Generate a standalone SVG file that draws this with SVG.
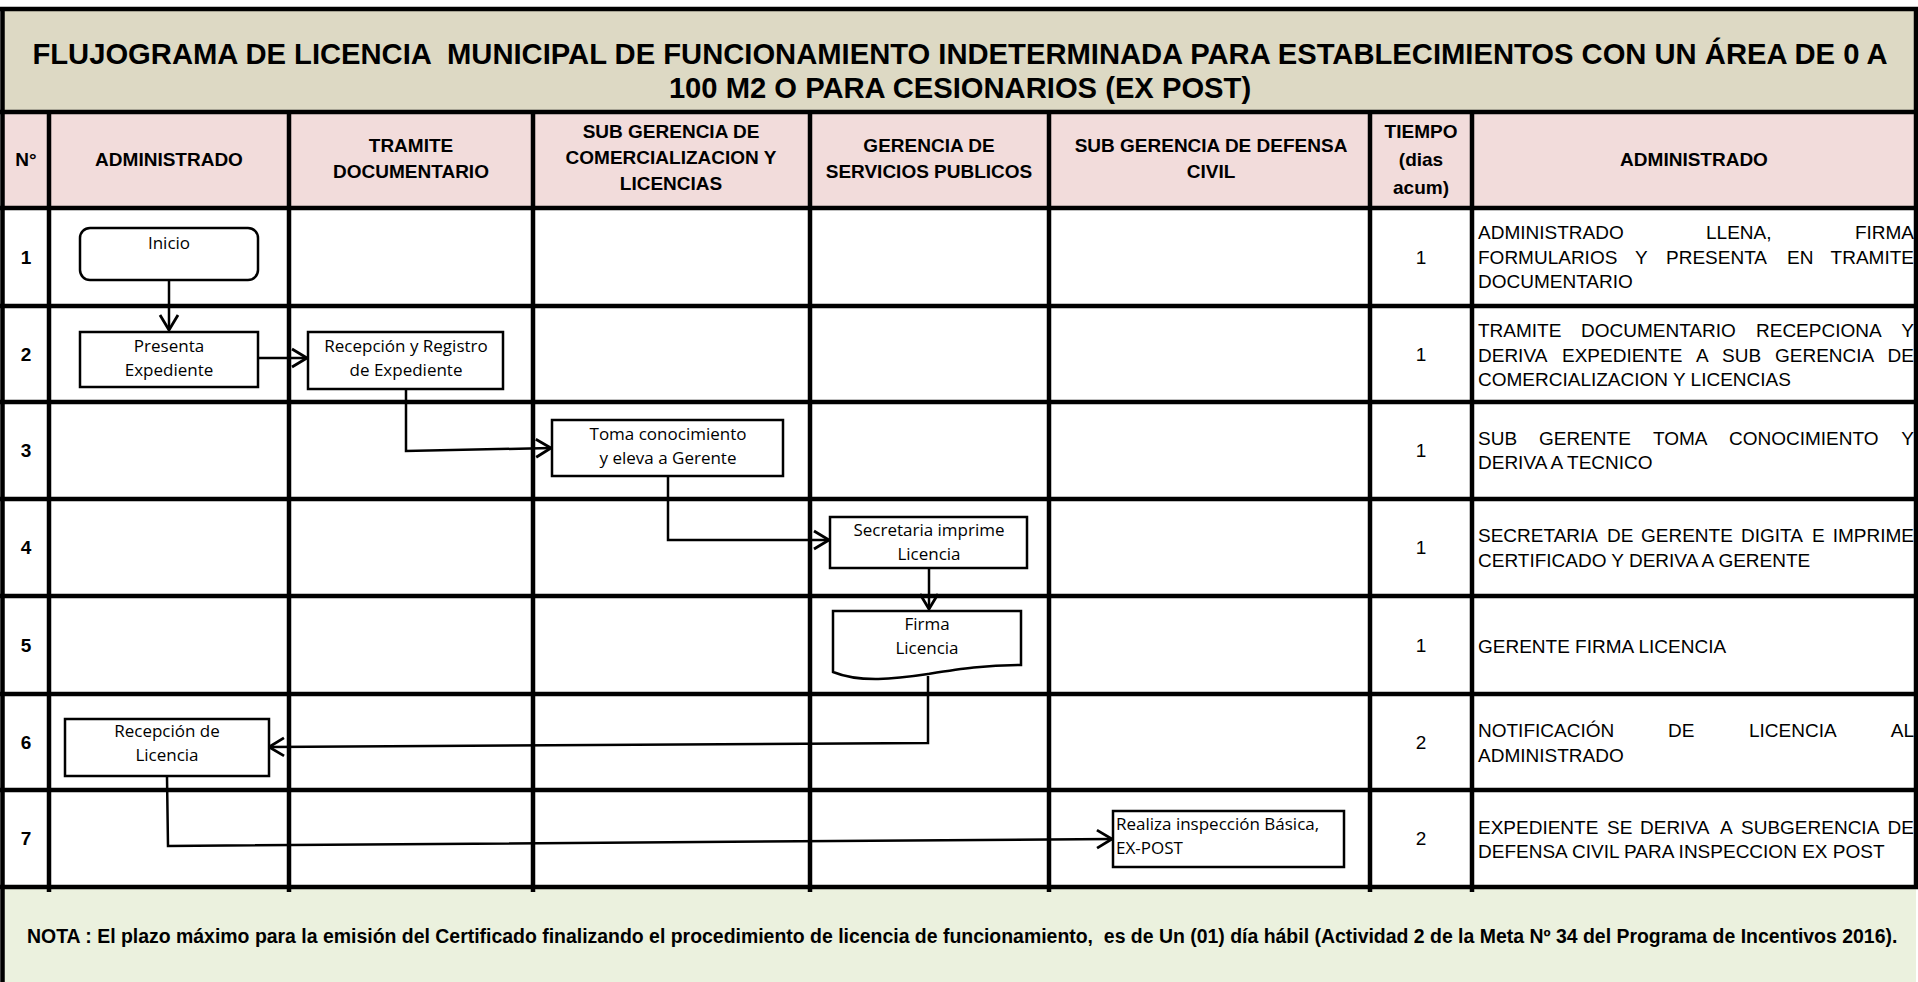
<svg xmlns="http://www.w3.org/2000/svg" width="1918" height="982" viewBox="0 0 1918 982">
<style>
.hd{font-family:"Liberation Sans",Arial,sans-serif;font-weight:bold;font-size:19px;text-anchor:middle;fill:#000}
.ttl{font-family:"Liberation Sans",Arial,sans-serif;font-weight:bold;font-size:29.2px;text-anchor:middle;fill:#000;white-space:pre}
.num{font-family:"Liberation Sans",Arial,sans-serif;font-weight:bold;font-size:19px;text-anchor:middle;fill:#000}
.tm{font-family:"Liberation Sans",Arial,sans-serif;font-size:19px;text-anchor:middle;fill:#000}
.d{font-family:"Liberation Sans",Arial,sans-serif;font-size:19px;fill:#000}
.de{font-family:"Liberation Sans",Arial,sans-serif;font-size:19px;fill:#000;text-anchor:end}
.nota{font-family:"Liberation Sans",Arial,sans-serif;font-weight:bold;font-size:19.45px;fill:#000;white-space:pre}
.bx{font-family:"Open Sans","Noto Sans",sans-serif;font-size:17px;text-anchor:middle;fill:#000}
.bxl{font-family:"Open Sans","Noto Sans",sans-serif;font-size:17px;fill:#000}
.box{fill:#fff;stroke:#000;stroke-width:2.5}
.grid{stroke:#000;stroke-width:4.5;fill:none}
</style>
<defs>
<marker id="arr" markerUnits="userSpaceOnUse" markerWidth="20" markerHeight="22" refX="16" refY="10" orient="auto" overflow="visible">
<path d="M1,1 L16,10 L1,19" fill="none" stroke="#000" stroke-width="2.8"/>
</marker>
</defs>
<rect x="0" y="0" width="1918" height="982" fill="#fff"/>
<!-- backgrounds -->
<rect x="2" y="9" width="1914" height="103" fill="#DDD9C4"/>
<rect x="2" y="112" width="1914" height="96" fill="#F2DCDB"/>
<rect x="2" y="887" width="1914" height="95" fill="#EBF1DE"/>
<!-- grid -->
<g class="grid">
<path d="M2.5,9 V982 M1916,9 V887"/>
<path d="M0,9 H1918 M0,112 H1918 M0,208 H1918 M0,306 H1918 M0,402 H1918 M0,499 H1918 M0,596 H1918 M0,694 H1918 M0,790 H1918 M0,887 H1918"/>
<path d="M49,112 V892 M289,112 V892 M533,112 V892 M810,112 V892 M1049,112 V892 M1370,112 V892 M1472,112 V892"/>
</g>
<!-- title -->
<text class="ttl" x="960" y="64">FLUJOGRAMA DE LICENCIA  MUNICIPAL DE FUNCIONAMIENTO INDETERMINADA PARA ESTABLECIMIENTOS CON UN ÁREA DE 0 A</text>
<text class="ttl" x="960" y="98">100 M2 O PARA CESIONARIOS (EX POST)</text>
<!-- headers -->
<g id="headers">
<text class="hd" x="26" y="166">N°</text>
<text class="hd" x="169" y="166">ADMINISTRADO</text>
<text class="hd" x="411" y="152">TRAMITE</text>
<text class="hd" x="411" y="178">DOCUMENTARIO</text>
<text class="hd" x="671" y="138">SUB GERENCIA DE</text>
<text class="hd" x="671" y="164">COMERCIALIZACION Y</text>
<text class="hd" x="671" y="190">LICENCIAS</text>
<text class="hd" x="929" y="152">GERENCIA DE</text>
<text class="hd" x="929" y="178">SERVICIOS PUBLICOS</text>
<text class="hd" x="1211" y="152">SUB GERENCIA DE DEFENSA</text>
<text class="hd" x="1211" y="178">CIVIL</text>
<text class="hd" x="1421" y="138">TIEMPO</text>
<text class="hd" x="1421" y="166">(dias</text>
<text class="hd" x="1421" y="194">acum)</text>
<text class="hd" x="1694" y="166">ADMINISTRADO</text>
</g>
<!-- row numbers -->
<g id="rownums">
<text class="num" x="26" y="264">1</text>
<text class="num" x="26" y="361">2</text>
<text class="num" x="26" y="457">3</text>
<text class="num" x="26" y="554">4</text>
<text class="num" x="26" y="652">5</text>
<text class="num" x="26" y="749">6</text>
<text class="num" x="26" y="845">7</text>
</g>
<!-- tiempo -->
<g id="tiempo">
<text class="tm" x="1421" y="264">1</text>
<text class="tm" x="1421" y="361">1</text>
<text class="tm" x="1421" y="457">1</text>
<text class="tm" x="1421" y="554">1</text>
<text class="tm" x="1421" y="652">1</text>
<text class="tm" x="1421" y="749">2</text>
<text class="tm" x="1421" y="845">2</text>
</g>
<!-- descriptions -->
<g id="descriptions">
<text class="d" y="239"><tspan x="1478">ADMINISTRADO</tspan><tspan x="1706">LLENA,</tspan></text>
<text class="de" x="1914" y="239">FIRMA</text>
<text class="d" y="264"><tspan x="1478">FORMULARIOS</tspan><tspan x="1635">Y</tspan><tspan x="1666">PRESENTA</tspan><tspan x="1787">EN</tspan></text>
<text class="de" x="1914" y="264">TRAMITE</text>
<text class="d" x="1478" y="288">DOCUMENTARIO</text>

<text class="d" y="337"><tspan x="1478">TRAMITE</tspan><tspan x="1581">DOCUMENTARIO</tspan><tspan x="1756">RECEPCIONA</tspan></text>
<text class="de" x="1914" y="337">Y</text>
<text class="d" y="362"><tspan x="1478">DERIVA</tspan><tspan x="1562">EXPEDIENTE</tspan><tspan x="1696">A</tspan><tspan x="1722">SUB</tspan><tspan x="1775">GERENCIA</tspan></text>
<text class="de" x="1914" y="362">DE</text>
<text class="d" x="1478" y="386">COMERCIALIZACION Y LICENCIAS</text>

<text class="d" y="445"><tspan x="1478">SUB</tspan><tspan x="1539">GERENTE</tspan><tspan x="1653">TOMA</tspan><tspan x="1729">CONOCIMIENTO</tspan></text>
<text class="de" x="1914" y="445">Y</text>
<text class="d" x="1478" y="469">DERIVA A TECNICO</text>

<text class="d" y="542"><tspan x="1478">SECRETARIA</tspan><tspan x="1607">DE</tspan><tspan x="1641">GERENTE</tspan><tspan x="1741">DIGITA</tspan><tspan x="1812">E</tspan></text>
<text class="de" x="1914" y="542">IMPRIME</text>
<text class="d" x="1478" y="567">CERTIFICADO Y DERIVA A GERENTE</text>

<text class="d" x="1478" y="653">GERENTE FIRMA LICENCIA</text>

<text class="d" y="737"><tspan x="1478">NOTIFICACIÓN</tspan><tspan x="1668">DE</tspan><tspan x="1749">LICENCIA</tspan></text>
<text class="de" x="1914" y="737">AL</text>
<text class="d" x="1478" y="762">ADMINISTRADO</text>

<text class="d" y="834"><tspan x="1478">EXPEDIENTE</tspan><tspan x="1607">SE</tspan><tspan x="1640">DERIVA</tspan><tspan x="1720">A</tspan><tspan x="1741">SUBGERENCIA</tspan></text>
<text class="de" x="1914" y="834">DE</text>
<text class="d" x="1478" y="858">DEFENSA CIVIL PARA INSPECCION EX POST</text>
</g>
<!-- nota -->
<text class="nota" x="27" y="943">NOTA : El plazo máximo para la emisión del Certificado finalizando el procedimiento de licencia de funcionamiento,  es de Un (01) día hábil (Actividad 2 de la Meta Nº 34 del Programa de Incentivos 2016).</text>
<!-- connectors -->
<g id="connectors" fill="none" stroke="#000" stroke-width="2.5" marker-end="url(#arr)">
<path d="M169,280 V330"/>
<path d="M258,358 H307"/>
<path d="M406,389 V451 L551,448"/>
<path d="M668,476 V540 H829"/>
<path d="M929,568 V609"/>
<path d="M928,676 V743 L269,747"/>
<path d="M167,777 L168,846 L1112,839"/>
</g>
<!-- nodes -->
<g id="n-inicio">
<rect class="box" x="80" y="228" width="178" height="52" rx="10"/>
<text class="bx" x="169" y="249">Inicio</text>
</g>
<g id="n-presenta">
<rect class="box" x="80" y="332" width="178" height="55"/>
<text class="bx" x="169" y="352">Presenta</text>
<text class="bx" x="169" y="376">Expediente</text>
</g>
<g id="n-recepcion">
<rect class="box" x="308" y="332" width="195" height="57"/>
<text class="bx" x="406" y="352">Recepción y Registro</text>
<text class="bx" x="406" y="376">de Expediente</text>
</g>
<g id="n-toma">
<rect class="box" x="552" y="420" width="231" height="56"/>
<text class="bx" x="668" y="440">Toma conocimiento</text>
<text class="bx" x="668" y="464">y eleva a Gerente</text>
</g>
<g id="n-secretaria">
<rect class="box" x="830" y="517" width="197" height="51"/>
<text class="bx" x="929" y="536">Secretaria imprime</text>
<text class="bx" x="929" y="560">Licencia</text>
</g>
<g id="n-firma">
<path class="box" d="M833,611 H1021 V665 C985,665 960,669 928,674 C895,679 860,683 833,672 Z"/>
<text class="bx" x="927" y="630">Firma</text>
<text class="bx" x="927" y="654">Licencia</text>
</g>
<g id="n-recepcion-licencia">
<rect class="box" x="65" y="719" width="204" height="57"/>
<text class="bx" x="167" y="737">Recepción de</text>
<text class="bx" x="167" y="761">Licencia</text>
</g>
<g id="n-realiza">
<rect class="box" x="1113" y="811" width="231" height="56"/>
<text class="bxl" x="1116" y="830">Realiza inspección Básica,</text>
<text class="bxl" x="1116" y="854">EX-POST</text>
</g>
</svg>
